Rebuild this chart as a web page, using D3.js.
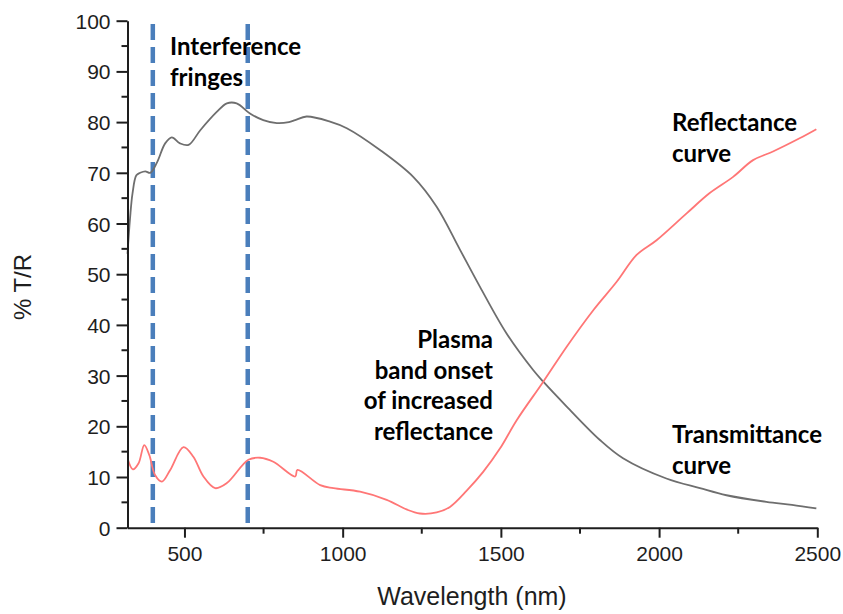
<!DOCTYPE html>
<html>
<head>
<meta charset="utf-8">
<script src="https://cdn.jsdelivr.net/npm/d3@7"></script>
<style>
  body { margin: 0; background: #fff; }
  .note { font-family: Lato, "Open Sans", sans-serif; font-weight: bold; font-size: 24px; fill: #000; }
</style>
</head>
<body>
<div id="chart"></div>
<script>
// transmittance curve (gray)
var transWl = [320, 328, 336, 348, 360, 376, 392, 413, 439, 460, 486, 513, 550, 602, 634, 665, 707, 749, 792, 830, 850, 886, 960, 1013, 1118, 1223, 1297, 1371, 1434, 1518, 1602, 1634, 1708, 1813, 1886, 2023, 2129, 2213, 2339, 2420, 2497];
var transVal = [54, 61, 66, 69.5, 70, 70.3, 70, 72, 75.8, 77, 75.8, 75.5, 78.4, 82, 83.7, 83.7, 81.7, 80.4, 79.8, 80, 80.4, 81.1, 80.1, 78.8, 74.5, 69.2, 63.3, 54.8, 47.5, 38.3, 31.1, 28.8, 23.9, 17.3, 13.7, 9.7, 7.8, 6.4, 5.1, 4.5, 3.8];

// reflectance curve (red)
var reflWl = [321, 337, 355, 373, 389, 407, 429, 455, 497, 528, 560, 597, 634, 702, 739, 781, 850, 857, 929, 971, 1055, 1139, 1202, 1244, 1297, 1339, 1392, 1444, 1497, 1550, 1634, 1708, 1792, 1866, 1929, 1992, 2087, 2160, 2234, 2297, 2360, 2444, 2497];
var reflVal = [13.5, 11.5, 12.7, 16.3, 14.3, 10.4, 9.1, 11.4, 15.9, 14.0, 10.1, 7.8, 8.8, 13.4, 13.8, 13.0, 10.1, 11.4, 8.4, 7.8, 7.1, 5.5, 3.6, 2.8, 3.0, 4.1, 7.3, 11.0, 15.6, 21.2, 28.8, 35.7, 42.9, 48.5, 53.8, 56.7, 62.0, 66.0, 69.2, 72.5, 74.2, 76.8, 78.6];

var fringeLines = [400, 700];
var xTicks = [500, 1000, 1500, 2000, 2500];
var xMinor = [750, 1250, 1750, 2250];
var yTicks = [0, 10, 20, 30, 40, 50, 60, 70, 80, 90, 100];
var yMinor = [5, 15, 25, 35, 45, 55, 65, 75, 85, 95];

var notes = [
  { lines: ["Interference", "fringes"], x: 170, y: 55, anchor: "start" },
  { lines: ["Reflectance", "curve"], x: 672, y: 131, anchor: "start" },
  { lines: ["Transmittance", "curve"], x: 672, y: 443, anchor: "start" },
  { lines: ["Plasma", "band onset", "of increased", "reflectance"], x: 493, y: 348, anchor: "end" }
];

var width = 843, height = 614;
var svg = d3.select("#chart").append("svg").attr("width", width).attr("height", height);

var x = d3.scaleLinear().domain([320, 2500]).range([127.5, 817.3]);
var y = d3.scaleLinear().domain([0, 100]).range([527.7, 20.7]);

var ink = "#1e1e1e";
var axisFont = "'Liberation Sans', Arial, sans-serif";

// dashed fringe markers
svg.selectAll(".fringe").data(fringeLines).enter().append("line")
  .attr("x1", function(d){ return x(d); }).attr("x2", function(d){ return x(d); })
  .attr("y1", 24).attr("y2", y(0))
  .attr("stroke", "#4a7ebb").attr("stroke-width", 4.5)
  .attr("stroke-dasharray", "16,7");

var line = d3.line()
  .x(function(d){ return x(d[0]); })
  .y(function(d){ return y(d[1]); })
  .curve(d3.curveCatmullRom.alpha(0.5));

svg.append("path").datum(d3.zip(transWl, transVal))
  .attr("d", line).attr("fill", "none")
  .attr("stroke", "#6e6e6e").attr("stroke-width", 1.8);

svg.append("path").datum(d3.zip(reflWl, reflVal))
  .attr("d", line).attr("fill", "none")
  .attr("stroke", "#ff7676").attr("stroke-width", 1.8);

// axes
var xAxis = svg.append("g").attr("transform", "translate(0," + y(0) + ")")
  .call(d3.axisBottom(x).tickValues(xTicks).tickFormat(d3.format("d"))
    .tickSize(10).tickPadding(8).tickSizeOuter(0));
xAxis.append("g").selectAll("line").data(xMinor).enter().append("line")
  .attr("x1", function(d){ return x(d); }).attr("x2", function(d){ return x(d); })
  .attr("y1", 0).attr("y2", 6);

var yAxis = svg.append("g").attr("transform", "translate(" + x(320) + ",0)")
  .call(d3.axisLeft(y).tickValues(yTicks).tickSize(11).tickPadding(6).tickSizeOuter(0));
yAxis.append("g").selectAll("line").data(yMinor).enter().append("line")
  .attr("y1", function(d){ return y(d); }).attr("y2", function(d){ return y(d); })
  .attr("x1", 0).attr("x2", -6);

[xAxis, yAxis].forEach(function(a){
  a.attr("font-family", null).attr("font-size", null);
  a.selectAll("path, line").attr("stroke", ink).attr("stroke-width", 2);
  a.selectAll("text").attr("fill", ink)
    .style("font-family", axisFont).style("font-size", "21px");
});
yAxis.selectAll(".tick text").attr("dy", "0.36em");

svg.append("text").attr("x", 472).attr("y", 605).attr("text-anchor", "middle")
  .attr("fill", ink).style("font-family", axisFont).style("font-size", "25px")
  .text("Wavelength (nm)");

svg.append("text").attr("transform", "translate(31,287) rotate(-90)")
  .attr("text-anchor", "middle").attr("fill", ink)
  .style("font-family", axisFont).style("font-size", "24px").text("% T/R");

// annotations
notes.forEach(function(n){
  var t = svg.append("text").attr("class", "note").attr("text-anchor", n.anchor);
  t.selectAll("tspan").data(n.lines).enter().append("tspan")
    .attr("x", n.x).attr("y", function(d, i){ return n.y + i * 30.5; })
    .text(function(d){ return d; });
});
</script>
</body>
</html>
